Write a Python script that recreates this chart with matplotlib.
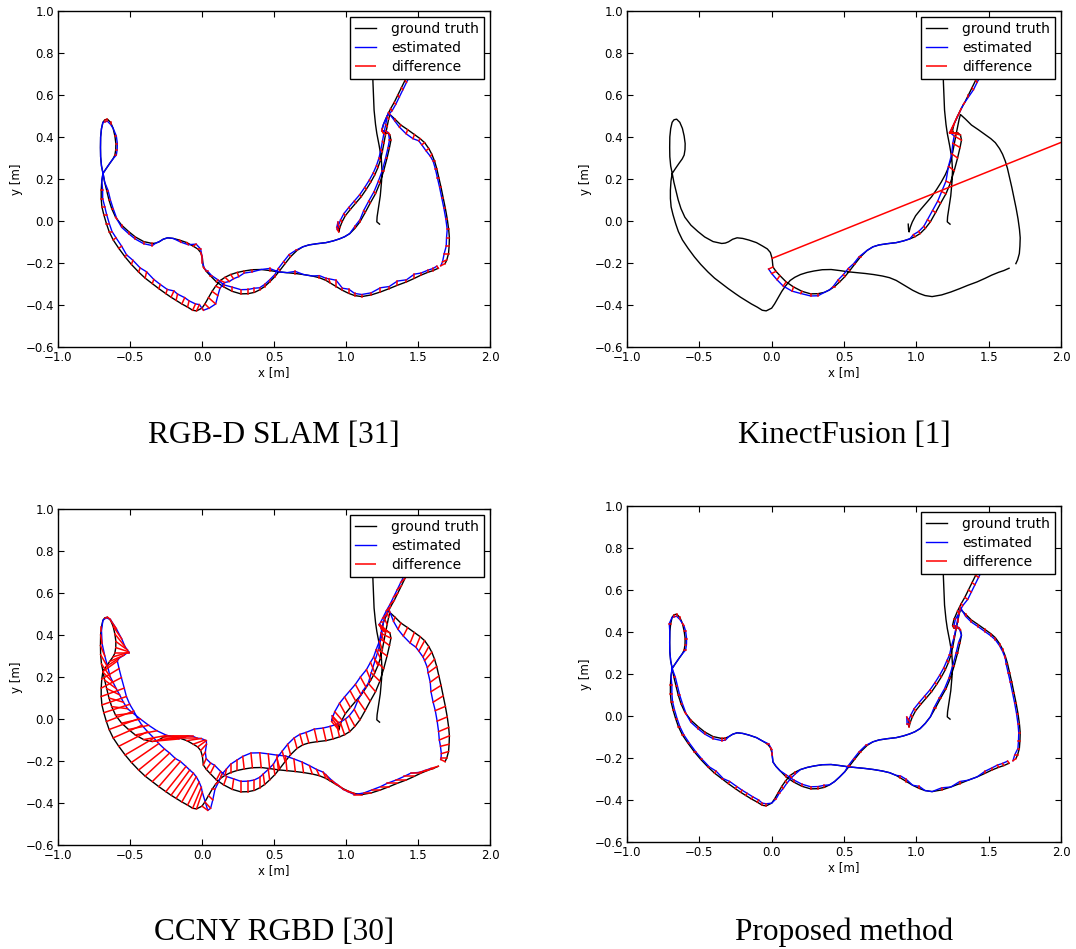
import numpy as np
import matplotlib
matplotlib.use('Agg')
import matplotlib.pyplot as plt
from matplotlib.collections import LineCollection

# ---- ground truth trajectory [m], in recording order ----
gt_x = [
    # start hook + inner strand (20)
    0.944, 0.946, 0.950, 0.958, 0.972, 0.995, 1.030, 1.068, 1.105, 1.140,
    1.172, 1.200, 1.222, 1.239, 1.252, 1.263, 1.274, 1.286, 1.296, 1.305,
    # right loop (21)
    1.340, 1.381, 1.428, 1.475, 1.515, 1.546, 1.575, 1.596, 1.615, 1.630,
    1.645, 1.660, 1.675, 1.690, 1.703, 1.713, 1.718, 1.716, 1.712, 1.700, 1.688,
    # gap in the mocap data (1)
    np.nan,
    # bottom strand, right to left (36)
    1.641, 1.605, 1.570, 1.520, 1.475, 1.420, 1.357, 1.300, 1.239, 1.175,
    1.109, 1.060, 1.020, 0.975, 0.931, 0.890, 0.861, 0.815, 0.766, 0.705,
    0.648, 0.590, 0.530, 0.470, 0.411, 0.350, 0.293, 0.245, 0.199, 0.160,
    0.128, 0.095, 0.070, 0.045, 0.020, 0.000,
    # outer left strand up to the crossing (23)
    -0.038, -0.065, -0.100, -0.140, -0.180, -0.215, -0.251, -0.300, -0.345, -0.395,
    -0.440, -0.490, -0.534, -0.578, -0.617, -0.645, -0.664, -0.682, -0.695, -0.700,
    -0.700, -0.696, -0.688,
    # small loop (17)
    -0.665, -0.641, -0.618, -0.605, -0.599, -0.598, -0.605, -0.617, -0.635, -0.657,
    -0.675, -0.688, -0.698, -0.704, -0.705, -0.704, -0.698,
    # inner left strand (22)
    -0.686, -0.676, -0.662, -0.646, -0.627, -0.600, -0.558, -0.510, -0.463, -0.405,
    -0.345, -0.320, -0.298, -0.270, -0.239, -0.200, -0.156, -0.105, -0.061, -0.030,
    -0.009, 0.003,
    # middle loop + middle strand (35)
    0.009, 0.030, 0.057, 0.100, 0.151, 0.210, 0.270, 0.320, 0.364, 0.400,
    0.435, 0.470, 0.506, 0.540, 0.577, 0.615, 0.660, 0.700, 0.742, 0.800,
    0.861, 0.910, 0.955, 0.990, 1.026, 1.062, 1.097, 1.133, 1.168, 1.205,
    1.235, 1.262, 1.285, 1.302, 1.312,
    # knot + way up (12)
    1.305, 1.285, 1.260, 1.250, 1.260, 1.285, 1.310, 1.335, 1.360, 1.385, 1.410, 1.440,
    # after the estimate ends: back down (17)
    1.400, 1.300, 1.220, 1.185, 1.187, 1.195, 1.205, 1.214, 1.230, 1.245,
    1.250, 1.247, 1.238, 1.226, 1.216, 1.214, 1.233,
]
gt_y = [
    -0.015, -0.040, -0.052, -0.030, -0.005, 0.025, 0.055, 0.085, 0.115, 0.150,
    0.185, 0.220, 0.255, 0.290, 0.330, 0.370, 0.410, 0.450, 0.485, 0.507,
    0.485, 0.457, 0.435, 0.412, 0.392, 0.373, 0.345, 0.318, 0.285, 0.250,
    0.205, 0.160, 0.110, 0.060, 0.010, -0.040, -0.080, -0.120, -0.155, -0.185, -0.203,
    np.nan,
    -0.225, -0.236, -0.244, -0.258, -0.273, -0.290, -0.306, -0.322, -0.338, -0.352,
    -0.360, -0.355, -0.345, -0.330, -0.312, -0.295, -0.283, -0.270, -0.262, -0.255,
    -0.250, -0.246, -0.242, -0.236, -0.231, -0.232, -0.238, -0.245, -0.255, -0.268,
    -0.283, -0.310, -0.335, -0.365, -0.395, -0.415,
    -0.428, -0.425, -0.410, -0.395, -0.378, -0.363, -0.346, -0.322, -0.298, -0.272,
    -0.243, -0.207, -0.171, -0.130, -0.090, -0.050, -0.012, 0.030, 0.067, 0.107,
    0.147, 0.190, 0.226,
    0.250, 0.274, 0.296, 0.314, 0.340, 0.369, 0.405, 0.441, 0.470, 0.485,
    0.482, 0.470, 0.440, 0.400, 0.350, 0.306, 0.262,
    0.222, 0.185, 0.145, 0.100, 0.059, 0.018, -0.020, -0.050, -0.076, -0.098,
    -0.107, -0.105, -0.099, -0.087, -0.080, -0.083, -0.091, -0.103, -0.120, -0.133,
    -0.150, -0.178,
    -0.219, -0.240, -0.260, -0.290, -0.314, -0.335, -0.347, -0.346, -0.340, -0.328,
    -0.312, -0.290, -0.265, -0.236, -0.203, -0.170, -0.140, -0.123, -0.114, -0.108,
    -0.103, -0.095, -0.085, -0.075, -0.060, -0.035, -0.004, 0.040, 0.085, 0.130,
    0.180, 0.240, 0.300, 0.350, 0.385,
    0.410, 0.420, 0.418, 0.430, 0.460, 0.500, 0.535, 0.565, 0.600, 0.635, 0.670, 0.710,
    0.760, 0.780, 0.760, 0.710, 0.663, 0.528, 0.460, 0.417, 0.360, 0.300,
    0.240, 0.190, 0.120, 0.067, 0.020, -0.004, -0.015,
]
n_est = 187  # gt samples that have a matching estimate

# ---- estimate - ground truth, per gt sample [cm] ----
rgbd_dx = [
    0, -1, -1, -1, -1, -1, -1, -1, -1, -1, -1, -1, -1, -1, -1, -1, -1, -1, -1, -1,
    0, -1, -1, -1, -1, -2, -2, -1, -1, -1, -1, -1, -1, -1, -1, -1, -2, -2, -3, -3, -3,
    0,
    -1, 0, 0, 0, 0, 0, 0, 0, 0, 0, 0, 0, 0, 0, 0, -1, 0, 0, 0, 0,
    0, 0, 0, 0, 0, 0, 0, 1, 2, 3, 3, 3, 4, 5, 3, 1,
    2, 2, 1, 2, 1, 2, 1, 1, 1, 1, 1, 1, 1, 2, 2, 2, 2, 2, 2, 1, 1, 0, 0,
    0, 0, 0, 1, 1, 1, 1, 0, 0, 0, 0, 0, 0, 0, 0, 0, 0,
    0, 0, 1, 1, 1, 1, 0, 0, 0, 0, 0, 0, 0, 0, 0, 0, 1, 1, 2, 2, 1, 0,
    1, 1, 1, 1, 0, 0, 0, 0, 0, 0, 0, 0, 0, -1, -1, -1, -1, 0, 0, 0,
    0, 0, 0, 0, 0, 0, 0, -1, -1, -1, -1, -1, -1, -1, -1,
    -1, -1, -1, 0, 0, 0, 1, 1, 1, 1, 1, 1,
]
rgbd_dy = [
    1, 1, 1, 1, 1, 1, 1, 1, 1, 1, 1, 1, 1, 1, 1, 1, 1, 1, 1, 1,
    -1, -1, -2, -2, -1, -1, -1, -1, 0, 0, 0, 0, 0, 0, 0, 0, 0, 0, 0, -1, -1,
    0,
    1, 1, 1, 1, 2, 1, 2, 1, 2, 1, 1, 1, 2, 1, 3, 2, 1, 1, 0, 0,
    1, 0, 0, 1, 0, -1, -1, -2, -2, -2, -1, -1, -2, -3, -2, -1,
    3, 3, 3, 3, 3, 3, 2, 2, 2, 3, 2, 2, 1, 1, 1, 0, 0, 0, 0, 0, 0, 0, 0,
    0, 0, 0, 0, 0, 0, 0, 0, -1, -1, -1, 0, 0, 0, 0, 0, 0,
    0, 0, 0, 0, 0, -1, -1, -1, -1, -1, -1, 0, 0, 0, 0, 0, -1, -1, 1, 0, -2, -2,
    -1, 0, 0, 1, 1, 2, 2, 2, 2, 1, 1, 1, 1, 1, 1, 1, 0, 0, 0, 0,
    0, 0, 0, 0, 0, 1, 1, 1, 1, 1, 1, 0, 0, 0, 0,
    1, 1, 1, 1, 0, 0, -1, -1, -1, -1, -1, -1,
]
ccny_dx = [
    -4, -4, -5, -5, -5, -4, -4, -4, -4, -4, -3, -3, -3, -3, -2, -2, -2, -2, -1, -1,
    -1, -2, -3, -3, -3, -4, -4, -5, -5, -6, -6, -7, -7, -7, -7, -7, -7, -6, -5, -4, -3,
    0,
    -5, -6, -6, -7, -7, -7, -7, -6, -6, -5, -5, -5, -4, -4, -3, -3, -2, -2, -2, -1,
    -1, -1, -1, -1, -1, -1, -1, 0, 0, 1, 1, 2, 2, 3, 4, 4,
    4, 6, 8, 10, 12, 13, 14, 15, 16, 17, 18, 19, 20, 20, 20, 20, 19, 18, 17, 16, 14, 12, 10,
    9, 10, 10, 10, 9, 8, 7, 6, 4, 2, 1, 0, 0, 1, 3, 5, 6,
    7, 8, 9, 10, 11, 12, 13, 14, 15, 16, 16, 16, 15, 15, 14, 14, 12, 10, 8, 6, 4, 2,
    2, 3, 3, 3, 2, 1, 0, 0, 0, 0, -1, -1, -1, -2, -2, -2, -2, -2, -2, -2,
    -2, -2, -2, -3, -3, -4, -4, -5, -5, -5, -6, -6, -6, -6, -6,
    -6, -5, -3, -2, -2, -3, -3, -3, -3, -3, -3, -3,
]
ccny_dy = [
    3, 4, 4, 4, 4, 5, 5, 5, 5, 5, 5, 5, 4, 4, 4, 4, 3, 3, 2, 2,
    -2, -3, -4, -5, -5, -5, -5, -4, -4, -3, -3, -3, -3, -2, -2, -2, -2, -1, -1, 0, 1,
    0,
    -1, -1, -1, 0, 0, 0, 0, 0, 0, 0, 0, 1, 1, 2, 2, 3, 3, 3, 4, 5,
    6, 7, 7, 7, 7, 7, 6, 5, 4, 3, 2, 1, 0, -2, -3, -2,
    8, 10, 11, 12, 12, 12, 12, 12, 11, 11, 10, 9, 8, 7, 6, 5, 5, 4, 4, 4, 5, 5, 5,
    4, 3, 2, 0, -2, -4, -6, -6, -4, -1, 0, 0, -2, -4, -5, -6, -6,
    -5, -4, -3, -2, -1, 1, 2, 2, 2, 2, 2, 1, 1, 0, 0, 0, 0, 1, 2, 3, 3, 2,
    3, 3, 4, 4, 4, 5, 5, 5, 5, 5, 5, 5, 5, 5, 5, 5, 5, 5, 5, 6,
    6, 6, 6, 6, 6, 5, 5, 5, 5, 4, 4, 4, 3, 3, 2,
    2, 3, 3, 2, 0, -2, -2, -2, -2, -2, -2, -2,
]
prop_dx = [
    -1, -1, 0, -1, -1, -1, -1, -1, -1, -1, -1, -1, -1, -1, -1, 0, 0, 0, 0, 0,
    0, 0, 0, 0, 0, 0, 0, 0, 0, -1, -1, -1, -1, -1, -1, -1, -1, -1, -1, -2, -2,
    0,
    -1, -1, -1, 0, 0, 0, 0, 0, 0, 0, 0, 0, 0, 0, 0, 0, 0, 0, 0, 0,
    0, 0, 0, 0, 0, 0, 0, 0, 0, 0, 1, 1, 1, 1, 1, 0,
    0, 0, 1, 1, 1, 1, 1, 1, 1, 1, 1, 1, 1, 1, 1, 1, 1, 1, 1, 1, 1, 0, 0,
    0, 0, 0, 1, 1, 1, 1, 1, 0, 0, 0, 0, -1, 0, 0, 0, 0,
    0, 1, 1, 1, 1, 1, 0, 0, 0, 0, 0, 0, 0, 0, 0, 0, 0, 0, 0, 1, 1, 0,
    0, 0, 0, 0, 0, 0, 0, 0, 0, 0, 0, 0, 0, -1, -1, -1, -1, 0, 0, 0,
    0, 0, 0, 0, 0, 0, 0, -1, -1, -1, -1, -1, -1, -1, 0,
    -1, -1, 0, 1, 1, 1, 1, 2, 2, 2, 2, 2,
]
prop_dy = [
    1, 0, 1, 1, 1, 1, 1, 1, 1, 1, 1, 1, 1, 0, 0, 1, 1, 1, 1, 1,
    -1, -1, -1, -1, -1, -1, -1, -1, -1, 0, 0, 0, 0, 0, 0, 0, 0, 0, 0, 0, -1,
    0,
    1, 1, 1, 1, 1, 0, 0, 1, 0, 1, 0, 0, 1, 0, 1, 1, 0, 0, 0, 0,
    0, 0, 0, 0, 0, 0, 0, 0, 0, -1, -1, -1, -1, 0, 0, 0,
    1, 1, 1, 1, 1, 1, 1, 1, 0, 1, 0, 0, 0, 0, 0, 0, 0, 0, 0, 0, 0, 0, 0,
    0, 0, 0, 0, 0, 0, 0, -1, -1, -1, -1, 0, 0, 0, 0, 0, 0,
    0, 0, 0, 0, 0, -1, -1, -1, -1, -1, -1, -1, 0, 0, 0, 0, 0, 0, 0, 0, -1, -1,
    0, 0, 0, 1, 1, 1, 1, 1, 1, 0, 0, 0, 0, 0, 0, 0, 0, 0, 0, 0,
    0, 0, 0, 0, 0, 0, 0, 0, 0, 0, 0, 0, 0, 0, 0,
    1, 1, 1, 0, 0, -1, -1, -1, -1, -1, -1, -1,
]
# KinectFusion only tracks the last part (middle loop onwards, 47 samples)
kinect_dx = [
    -3, -3, -2, -2, -1, -1, 0, 0, 0, 0, -1, -1, -1, -1, -1, -1, 0, 0, 0, 0,
    0, 0, 0, -1, -1, -1, -2, -2, -2, -3, -3, -4, -4, -5, -5,
    -7, -5, -3, -2, -3, -4, -2, -1, 0, 1, 1, 1,
]
kinect_dy = [
    -1, -1, -2, -2, -2, -1, -1, -1, 0, 0, 0, 1, 1, 1, 0, 0, 0, 0, 0, 0,
    0, 0, 0, 1, 1, 1, 1, 1, 1, 1, 1, 2, 2, 2, 2,
    1, 0, 0, -1, -4, -6, -3, -1, -1, -1, -1, -1,
]
# the one lost KinectFusion pose just before tracking starts, far off the plot
kinect_lost = (2.6, 0.54)

titles = ['RGB-D SLAM [31]', 'KinectFusion [1]', 'CCNY RGBD [30]', 'Proposed method']

gx = np.array(gt_x)
gy = np.array(gt_y)
assert len(gx) == len(gy)
for a in (rgbd_dx, rgbd_dy, ccny_dx, ccny_dy, prop_dx, prop_dy):
    assert len(a) == n_est, len(a)
assert len(kinect_dx) == len(kinect_dy) == n_est - 140


def full_estimate(dx, dy):
    ex = np.full(len(gx), np.nan)
    ey = np.full(len(gx), np.nan)
    ex[:n_est] = gx[:n_est] + np.array(dx) / 100.0
    ey[:n_est] = gy[:n_est] + np.array(dy) / 100.0
    return ex, ey


def kinect_estimate():
    ex = np.full(len(gx), np.nan)
    ey = np.full(len(gx), np.nan)
    k0 = n_est - len(kinect_dx)
    ex[k0:n_est] = gx[k0:n_est] + np.array(kinect_dx) / 100.0
    ey[k0:n_est] = gy[k0:n_est] + np.array(kinect_dy) / 100.0
    ex[k0 - 1], ey[k0 - 1] = kinect_lost
    return ex, ey


def break_jumps(x, y, max_step=0.3):
    # like the benchmark tool: do not join samples across big gaps
    xs, ys = [x[0]], [y[0]]
    for i in range(1, len(x)):
        if np.hypot(x[i] - x[i - 1], y[i] - y[i - 1]) > max_step:
            xs.append(np.nan)
            ys.append(np.nan)
        xs.append(x[i])
        ys.append(y[i])
    return np.array(xs), np.array(ys)


def draw(ax, ex, ey, ymin):
    ax.plot(gx, gy, '-', color='black', lw=1.0, label='ground truth')
    bx, by = break_jumps(ex, ey)
    ax.plot(bx, by, '-', color='blue', lw=1.0, label='estimated')
    segs = []
    for i in range(len(gx)):
        if np.isfinite(ex[i]) and np.isfinite(gx[i]):
            segs.append([(gx[i], gy[i]), (ex[i], ey[i])])
    lc = LineCollection(segs, colors='red', linewidths=1.1, capstyle='projecting',
                        label='difference')
    ax.add_collection(lc)

    ax.set_xlim(-1.0, 2.0)
    ax.set_ylim(ymin, 1.0)
    ax.set_xticks(np.arange(-1.0, 2.01, 0.5))
    ax.set_yticks(np.arange(-0.6, 1.01, 0.2))
    ax.tick_params(direction='in', top=True, right=True, length=4, width=0.8,
                   labelsize=8.5, pad=3)
    for s in ax.spines.values():
        s.set_linewidth(1.0)
    ax.set_xlabel('x [m]', fontsize=8.5, labelpad=1)
    ax.set_ylabel('y [m]', fontsize=8.5, labelpad=2)
    leg = ax.legend(loc='upper right', fontsize=10, fancybox=False, framealpha=1,
                    edgecolor='black', handlelength=1.5, handletextpad=1.1,
                    labelspacing=0.35, borderpad=0.35, borderaxespad=0.45)
    leg.get_frame().set_linewidth(1.0)


fig = plt.figure(figsize=(10.76, 9.49), dpi=100)
W, H = 1076.0, 949.0
boxes = [(58, 11, 490, 347), (627, 11, 1061, 347),
         (58, 509, 490, 845), (627, 506, 1061, 842)]
estimates = [full_estimate(rgbd_dx, rgbd_dy), kinect_estimate(),
             full_estimate(ccny_dx, ccny_dy), full_estimate(prop_dx, prop_dy)]
ymins = [-0.6, -0.595, -0.6, -0.6]
title_base = [443, 443, 940, 940]

for k in range(4):
    l, t, r, b = boxes[k]
    ax = fig.add_axes([l / W, 1 - b / H, (r - l) / W, (b - t) / H])
    ex, ey = estimates[k]
    draw(ax, ex, ey, ymins[k])
    fig.text((l + r) / 2 / W, 1 - title_base[k] / H, titles[k], ha='center',
             va='baseline', fontsize=22.5, family='Liberation Serif')

fig.savefig('out.png', dpi=100)
